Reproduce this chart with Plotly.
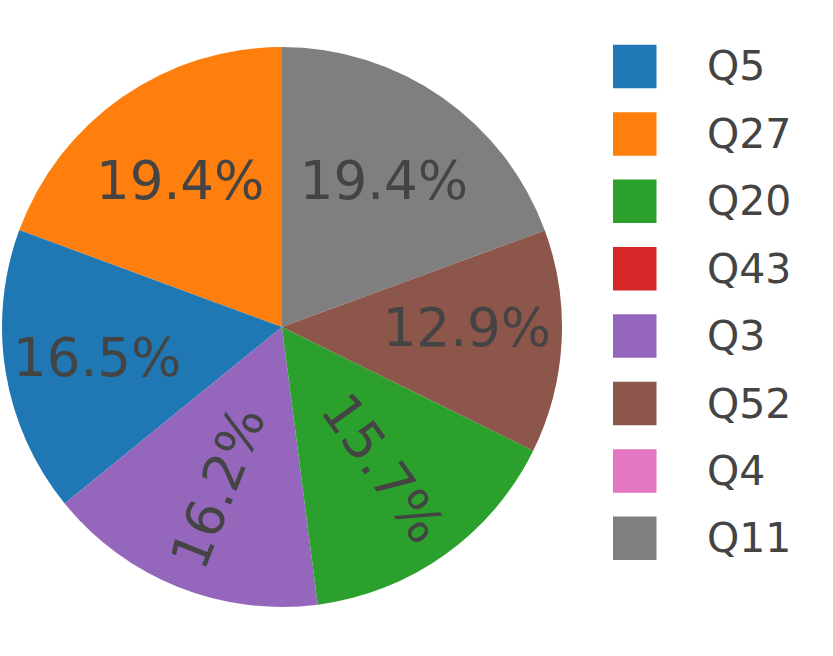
import plotly.graph_objects as go

labels = ["Q5", "Q27", "Q20", "Q43", "Q3", "Q52", "Q4", "Q11"]
values = [16.5, 19.4, 15.7, 0, 16.2, 12.9, 0, 19.42]
colors = ["#1f77b4", "#ff7f0e", "#2ca02c", "#d62728", "#9467bd", "#8c564b", "#e377c2", "#7f7f7f"]
radial_labels = ["Q20", "Q3"]  # slices whose percentage is written along the radius

W, H = 833, 656
FONT = "DejaVu Sans"

# slice order: descending by value, zero slices are not drawn
order = sorted([i for i, v in enumerate(values) if v > 0], key=lambda i: -values[i])
p_labels = [labels[i] for i in order]
p_values = [values[i] for i in order]
p_colors = [colors[i] for i in order]

domain = dict(x=[2 / W, 562 / W], y=[1 - 607 / H, 1 - 47 / H])
tfont = dict(family=FONT, size=53, color="#444444")

fig = go.Figure()
fig.add_trace(go.Pie(
    labels=p_labels, values=p_values,
    marker=dict(colors=p_colors, line=dict(width=0)),
    texttemplate=["" if l in radial_labels else "%{percent:.1%}" for l in p_labels],
    textposition="inside",
    textfont=tfont,
    insidetextorientation="horizontal",
    sort=False, direction="counterclockwise",
    domain=domain, showlegend=False,
    hoverinfo="label+percent",
))
fig.add_trace(go.Pie(
    labels=p_labels, values=p_values,
    marker=dict(colors=["rgba(0,0,0,0)"] * len(p_labels), line=dict(width=0)),
    texttemplate=["%{percent:.1%}" if l in radial_labels else "" for l in p_labels],
    textposition="inside",
    textfont=tfont,
    insidetextorientation="radial",
    sort=False, direction="counterclockwise",
    domain=domain, showlegend=False,
    hoverinfo="skip",
))

# Legend drawn as layout shapes/annotations (large symbols)
shapes, annotations = [], []
row0, step, sq = 66.5, 67.4, 43.5
for i, (lab, col) in enumerate(zip(labels, colors)):
    cy = row0 + step * i
    shapes.append(dict(
        type="rect", xref="paper", yref="paper",
        x0=613 / W, x1=(613 + sq) / W,
        y0=1 - (cy + sq / 2) / H, y1=1 - (cy - sq / 2) / H,
        fillcolor=col, line=dict(width=0),
    ))
    annotations.append(dict(
        text=lab, xref="paper", yref="paper",
        x=705 / W, y=1 - cy / H, xanchor="left", yanchor="middle",
        showarrow=False, font=dict(family=FONT, size=41, color="#444444"),
    ))

fig.update_layout(
    width=W, height=H,
    margin=dict(l=0, r=0, t=0, b=0),
    paper_bgcolor="white",
    font=dict(family=FONT, color="#444444"),
    shapes=shapes,
    annotations=annotations,
)

fig.write_html("out.html", config={"displayModeBar": False},
               post_script="document.body.style.margin='0';")
